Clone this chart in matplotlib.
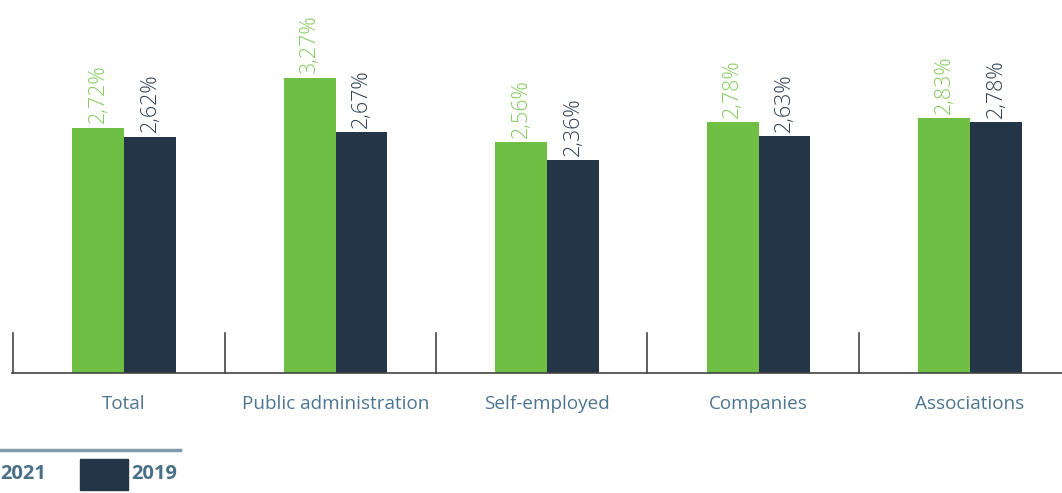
import matplotlib.pyplot as plt
from matplotlib.patches import Rectangle
from matplotlib.lines import Line2D
import numpy as np

plt.rcParams['font.family'] = ['Open Sans', 'DejaVu Sans']

categories = ['Total', 'Public administration', 'Self-employed', 'Companies', 'Associations']
vals_2021 = [2.72, 3.27, 2.56, 2.78, 2.83]
vals_2019 = [2.62, 2.67, 2.36, 2.63, 2.78]
labels_2021 = ['2,72%', '3,27%', '2,56%', '2,78%', '2,83%']
labels_2019 = ['2,62%', '2,67%', '2,36%', '2,63%', '2,78%']

green = '#70bf45'
dark = '#233546'
green_txt = '#86cc5e'
dark_txt = '#2e3f52'
cat_col = '#4d7590'

fig = plt.figure(figsize=(10.62, 4.93), dpi=100)
ax = fig.add_axes([12 / 1062, 120 / 493, 1050 / 1062, 373 / 493])

x = np.arange(len(categories))
w = 0.245
b1 = ax.bar(x - w / 2, vals_2021, w, color=green)
b2 = ax.bar(x + w / 2, vals_2019, w, color=dark)

for rect, lab in zip(b1, labels_2021):
    ax.annotate(lab, (rect.get_x() + rect.get_width() / 2, rect.get_height()),
                xytext=(0, 3), textcoords='offset points', rotation=90,
                ha='center', va='bottom', fontsize=15.5, fontweight='light',
                color=green_txt)
for rect, lab in zip(b2, labels_2019):
    ax.annotate(lab, (rect.get_x() + rect.get_width() / 2, rect.get_height()),
                xytext=(0, 3), textcoords='offset points', rotation=90,
                ha='center', va='bottom', fontsize=15.5, fontweight='light',
                color=dark_txt)

ax.set_xlim(-0.53, 4.435)
ax.set_ylim(0, 4.135)
for s in ['top', 'right', 'left']:
    ax.spines[s].set_visible(False)
ax.spines['bottom'].set_color('#444444')
ax.spines['bottom'].set_linewidth(1.2)
ax.set_yticks([])

# group separators
for sep in x - 0.525:
    ax.plot([sep, sep], [0, 0.443], color='#444444', lw=1.2, clip_on=False)

ax.set_xticks(x)
ax.set_xticklabels(categories, fontsize=13.6, color=cat_col)
ax.tick_params(axis='x', length=0, pad=16)

# legend
fig.add_artist(Line2D([0, 180 / 1062], [1 - 450 / 493, 1 - 450 / 493],
                      color='#7f9cae', lw=2.5))
fig.add_artist(Rectangle((80 / 1062, 1 - 490 / 493), 48 / 1062, 31 / 493,
                         color=dark, transform=fig.transFigure))
fig.text(0, 1 - 474 / 493, '2021', fontsize=14.5, fontweight='bold',
         color='#4a7088', va='center', ha='left')
fig.text(131 / 1062, 1 - 474 / 493, '2019', fontsize=14.5, fontweight='bold',
         color='#4a7088', va='center', ha='left')

fig.savefig('out.png', dpi=100)
